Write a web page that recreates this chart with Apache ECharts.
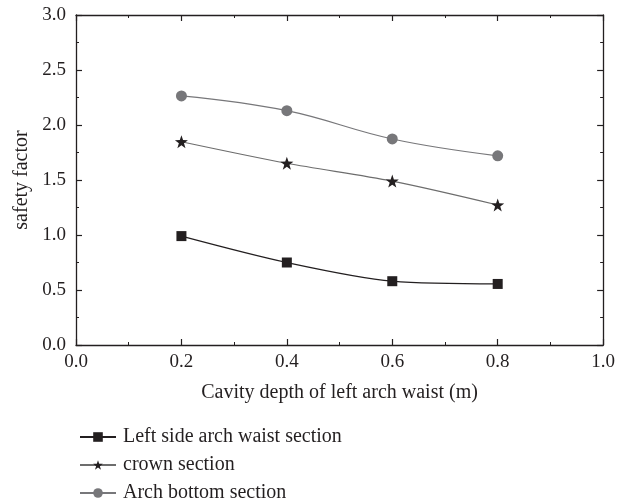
<!DOCTYPE html>
<html>
<head>
<meta charset="utf-8">
<script src="https://cdn.jsdelivr.net/npm/echarts@6/dist/echarts.min.js"></script>
<style>html,body{margin:0;padding:0;background:#fff;}#c{width:618px;height:504px;}</style>
</head>
<body>
<div id="c"></div>
<script>
var xValues = [0.2, 0.4, 0.6, 0.8];
var leftWaist = [0.99, 0.75, 0.58, 0.555];
var crown = [1.848, 1.652, 1.49, 1.273];
var archBottom = [2.264, 2.13, 1.873, 1.72];
var seriesNames = ['Left side arch waist section', 'crown section', 'Arch bottom section'];
var xTitle = 'Cavity depth of left arch waist (m)';
var yTitle = 'safety factor';

function pairs(ys){ return xValues.map(function(x,i){ return [x, ys[i]]; }); }
var FONT = 'Liberation Serif';
var INK = '#231f20';
var star = 'path://M50,0 L62,34 L98,35 L69,57 L80,92 L50,71 L20,92 L31,57 L2,35 L38,34 Z';

var chart = echarts.init(document.getElementById('c'), null, {renderer:'canvas'});
var axisCommon = {
  min: 0,
  axisLine: {show: true, onZero: false, lineStyle: {color: INK, width: 1.3}},
  axisTick: {show: true, inside: true, length: 6, lineStyle: {color: INK, width: 1.2}},
  minorTick: {show: true, splitNumber: 2, length: 3, lineStyle: {color: INK, width: 1}},
  splitLine: {show: false}
};
chart.setOption({
  animation: false,
  backgroundColor: '#fff',
  grid: {left: 76, right: 13, top: 15, bottom: 159},
  legend: {
    orient: 'vertical', left: 74, top: 422, height: 200, itemWidth: 36, itemHeight: 12, itemGap: 8,
    textStyle: {fontFamily: FONT, fontSize: 20, color: INK, padding: [0,0,0,2]},
    data: seriesNames
  },
  xAxis: [
    Object.assign({}, axisCommon, {type: 'value', position: 'bottom', max: 1, interval: 0.2,
      name: xTitle, nameLocation: 'middle', nameGap: 38,
      nameTextStyle: {fontFamily: FONT, fontSize: 20, color: INK},
      axisLabel: {fontFamily: FONT, fontSize: 19, color: INK, margin: 8, formatter: function(v){return v.toFixed(1);}}}),
    Object.assign({}, axisCommon, {type: 'value', position: 'top', max: 1, interval: 0.2,
      axisLabel: {show: false}})
  ],
  yAxis: [
    Object.assign({}, axisCommon, {type: 'value', position: 'left', max: 3, interval: 0.5,
      name: yTitle, nameLocation: 'middle', nameGap: 44,
      nameTextStyle: {fontFamily: FONT, fontSize: 20, color: INK},
      axisLabel: {fontFamily: FONT, fontSize: 19, color: INK, margin: 10, formatter: function(v){return v.toFixed(1);}}}),
    Object.assign({}, axisCommon, {type: 'value', position: 'right', max: 3, interval: 0.5,
      axisLabel: {show: false}})
  ],
  series: [
    {name: seriesNames[0], type: 'line', data: pairs(leftWaist), smooth: 0.3,
     symbol: 'rect', symbolSize: 10, itemStyle: {color: INK},
     lineStyle: {color: INK, width: 1.2}},
    {name: seriesNames[1], type: 'line', data: pairs(crown), smooth: 0.3,
     symbol: star, symbolSize: 13, itemStyle: {color: INK},
     lineStyle: {color: '#6d6d6d', width: 1.2}},
    {name: seriesNames[2], type: 'line', data: pairs(archBottom), smooth: 0.4,
     symbol: 'circle', symbolSize: 11, itemStyle: {color: '#77777a'},
     lineStyle: {color: '#77777a', width: 1.2}}
  ]
});
</script>
</body>
</html>
